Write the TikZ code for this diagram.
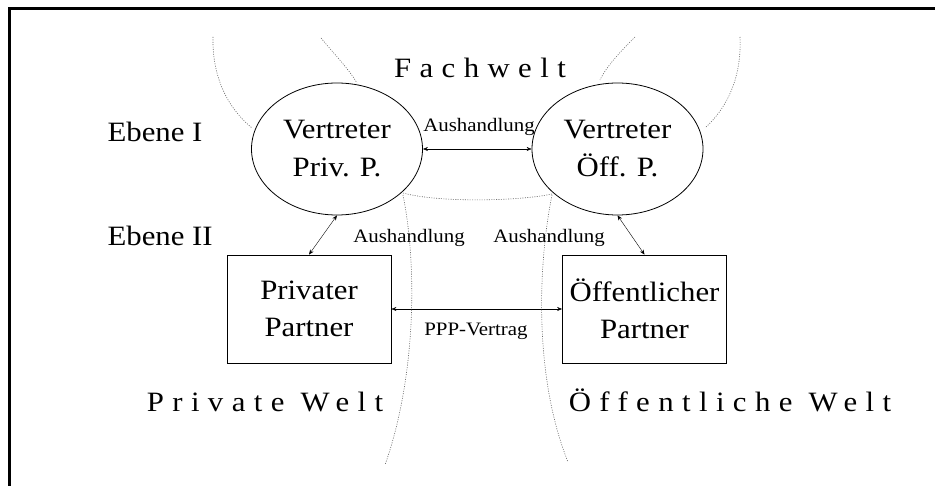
\documentclass[tikz,border=0pt]{standalone}
\usepackage{fontspec}
\setmainfont{Liberation Serif}[FakeStretch=1.1]
\newfontfamily\weltfont{Liberation Serif}[FakeStretch=1.1,LetterSpace=30]
\usetikzlibrary{shapes,arrows.meta,positioning}
\tikzset{<->, % every connector has two heads
>={Stealth[length=5pt,width=4pt]}, % small filled heads
vertreter/.style={ellipse, draw, line width=0.8pt, minimum width=171pt, minimum height=132pt, inner sep=0pt, align=center, font=\fontsize{28}{38}\selectfont}, % level I
partner/.style={rectangle, draw, line width=0.8pt, minimum width=164pt, minimum height=108pt, inner sep=0pt, align=center, font=\fontsize{28}{37}\selectfont}, % level II
}

\begin{document}
\begin{tikzpicture}[x=1pt, y=-1pt,
	welt/.style={anchor=base, font=\weltfont\fontsize{28}{34}\selectfont},
	ebene/.style={anchor=base west, font=\fontsize{28}{34}\selectfont},
	deal/.style={anchor=base, inner sep=0pt, font=\fontsize{19}{22}\selectfont},
	grenze/.style={-, gray!80!black, line width=0.6pt, dash pattern=on 1pt off 1.4pt}]
\useasboundingbox (0,0) rectangle (935,486);
\draw[-, line width=3pt] (935,8.5) -- (9.5,8.5) -- (9.5,486);
\node[vertreter] (vp) at (337,149) {Vertreter\\Priv. P.};
\node[vertreter] (vo) at (617.5,149) {Vertreter\\Öff. P.};
\node[partner] (pp) at (309,309) {Privater\\Partner};
\node[partner] (po) at (644.5,309) {Öffentlicher\\Partner};
\node[welt] (fw) at (480,78) {Fachwelt};
\node[welt] (pw) at (265,412) {Private Welt};
\node[welt] (ow) at (730,412) {Öffentliche Welt};
\node[ebene] (e1) at (104,142) {Ebene I};
\node[ebene] (e2) at (104,246) {Ebene II};
\draw (vp) -- (vo);
\draw (vp.south) -- (pp.north);
\draw (vo.south) -- (po.north);
\draw (pp) -- (po);
\node[deal] (a1) at (479,132) {Aushandlung};
\node[deal] (a2) at (409,243) {Aushandlung};
\node[deal] (a3) at (549,243) {Aushandlung};
\node[deal] (pv) at (476,336) {PPP-Vertrag};
% borders between the worlds
\draw[grenze] (213,37) .. controls (212,80) and (230,110) .. (252,128);
\draw[grenze] (321,38) .. controls (335,55) and (348,68) .. (357,83);
\draw[grenze] (635,37) .. controls (620,52) and (606,67) .. (600,80);
\draw[grenze] (740,37) .. controls (742,80) and (725,110) .. (705,128);
\draw[grenze] (403,193) .. controls (440,203) and (520,201) .. (552,194);
\draw[grenze] (403,195) .. controls (418,270) and (415,380) .. (385,465);
\draw[grenze] (552,195) .. controls (537,270) and (535,380) .. (568,462);
\end{tikzpicture}
\end{document}
